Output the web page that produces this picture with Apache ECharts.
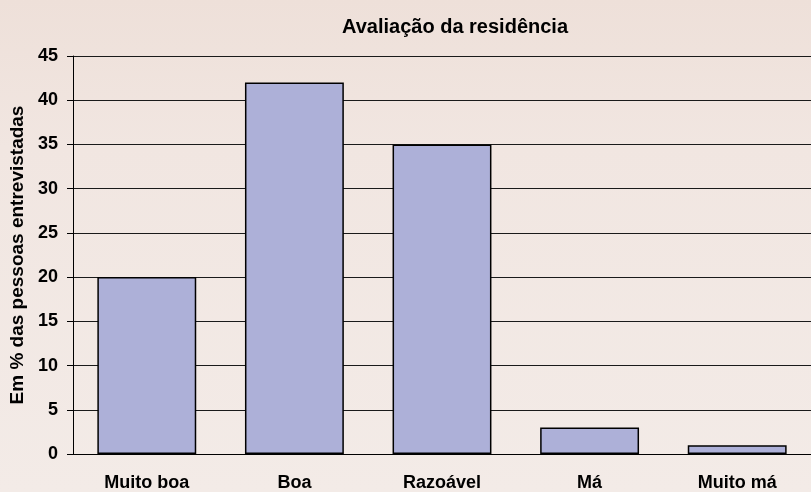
<!DOCTYPE html>
<html>
<head>
<meta charset="utf-8">
<script src="https://cdn.jsdelivr.net/npm/echarts@6/dist/echarts.min.js"></script>
<style>
html, body { margin: 0; padding: 0; }
#main { width: 811px; height: 492px; }
</style>
</head>
<body>
<div id="main"></div>
<script>
var categories = ['Muito boa', 'Boa', 'Razoável', 'Má', 'Muito má'];
var values = [20, 42, 35, 3, 1];

var myChart = echarts.init(document.getElementById('main'));

var option = {
    backgroundColor: {
        type: 'linear', x: 0, y: 0, x2: 0, y2: 1,
        colorStops: [
            { offset: 0, color: '#eee0d9' },
            { offset: 0.3, color: '#f1e6e1' },
            { offset: 1, color: '#f3ebe7' }
        ]
    },
    textStyle: { fontFamily: 'Liberation Sans, Arial, sans-serif' },
    title: {
        text: 'Avaliação da residência',
        left: 450,
        textAlign: 'center',
        top: 12,
        textStyle: { fontSize: 20, fontWeight: 'bold', color: '#000' }
    },
    grid: {
        left: 72,
        right: -5,
        top: 56,
        bottom: 38
    },
    xAxis: {
        type: 'category',
        data: categories,
        axisLine: { lineStyle: { color: '#000', width: 1 } },
        axisTick: { length: 6, lineStyle: { color: '#000' } },
        axisLabel: { fontSize: 18, fontWeight: 'bold', color: '#000', margin: 20 }
    },
    yAxis: {
        type: 'value',
        min: 0,
        max: 45,
        interval: 5,
        name: 'Em % das pessoas entrevistadas',
        nameLocation: 'middle',
        nameRotate: 90,
        nameGap: 46,
        nameTextStyle: { fontSize: 19, fontWeight: 'bold', color: '#000' },
        axisLine: { show: true, lineStyle: { color: '#000', width: 1 } },
        axisTick: { show: true, length: 6, lineStyle: { color: '#000' } },
        axisLabel: { fontSize: 18, fontWeight: 'bold', color: '#000', margin: 15 },
        splitLine: { lineStyle: { color: '#1a1a1a', width: 1 } }
    },
    series: [{
        type: 'bar',
        data: values,
        barCategoryGap: '33%',
        itemStyle: { color: '#adb0d8', borderColor: '#000', borderWidth: 1.5 }
    }]
};

myChart.setOption(option);
</script>
</body>
</html>
